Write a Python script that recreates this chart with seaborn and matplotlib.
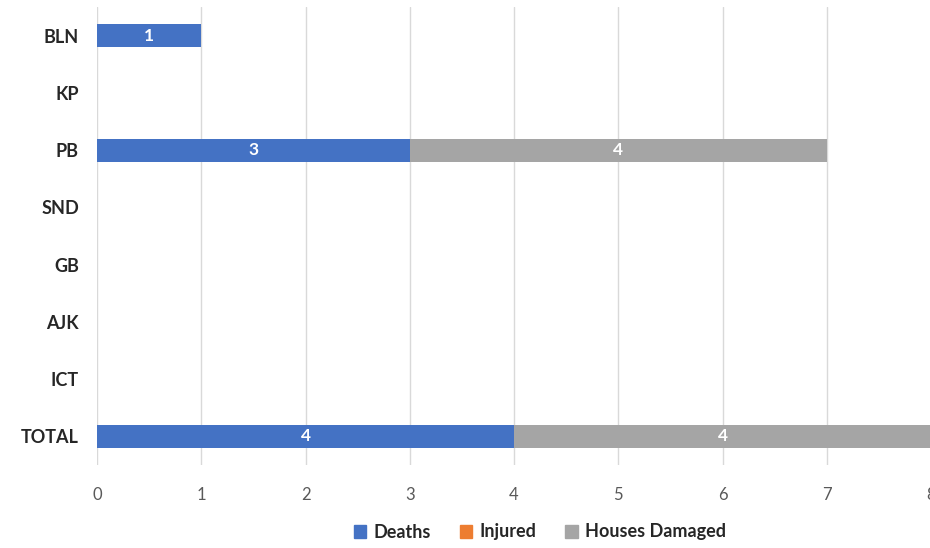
import matplotlib
matplotlib.use("Agg")
import matplotlib.pyplot as plt
import seaborn as sns
import pandas as pd
from matplotlib.patches import Patch

regions = ["BLN", "KP", "PB", "SND", "GB", "AJK", "ICT", "TOTAL"]
deaths = [1, 0, 3, 0, 0, 0, 0, 4]
injured = [0, 0, 0, 0, 0, 0, 0, 0]
houses = [0, 0, 4, 0, 0, 0, 0, 4]
x_ticks = [0, 1, 2, 3, 4, 5, 6, 7, 8]

c_deaths = "#4472C4"
c_injured = "#ED7D31"
c_houses = "#A5A5A5"

sns.set_theme(style="white")
plt.rcParams['font.family'] = ['Lato', 'DejaVu Sans']

df = pd.DataFrame({"region": regions, "deaths": deaths, "injured": injured, "houses": houses})
df["cum1"] = df["deaths"]
df["cum2"] = df["deaths"] + df["injured"]
df["cum3"] = df["cum2"] + df["houses"]

fig = plt.figure(figsize=(9.3, 5.48), dpi=100)
ax = fig.add_axes([97/930, 1 - 465/548, 834/930, (465 - 7)/548])

for col, color in [("cum3", c_houses), ("cum2", c_injured), ("cum1", c_deaths)]:
    sns.barplot(data=df, y="region", x=col, color=color, orient="h",
                width=0.4, ax=ax, saturation=1, linewidth=0, order=regions)

# data labels
for i, r in df.iterrows():
    segs = [(0, r["deaths"]), (r["cum1"], r["injured"]), (r["cum2"], r["houses"])]
    for start, val in segs:
        if val > 0:
            ax.text(start + val / 2, i, f"{int(val)}", ha="center", va="center",
                    color="white", fontsize=12.5, fontweight="bold")

ax.set_xlim(0, 8)
ax.set_ylim(7.5, -0.5)
ax.set_xticks(x_ticks)
ax.set_xticklabels([str(t) for t in x_ticks])
ax.xaxis.grid(True, color="#D9D9D9", linewidth=1)
ax.set_axisbelow(True)
ax.set_xlabel("")
ax.set_ylabel("")
for s in ax.spines.values():
    s.set_visible(False)
ax.tick_params(axis="x", colors="#595959", labelsize=12, length=0, pad=16)
ax.tick_params(axis="y", labelsize=13, length=0, pad=13)
for lbl in ax.get_yticklabels():
    lbl.set_fontweight("bold")
    lbl.set_color("#262626")

handles = [Patch(color=c_deaths, label="Deaths"),
           Patch(color=c_injured, label="Injured"),
           Patch(color=c_houses, label="Houses Damaged")]
fig.legend(handles=handles, loc="center", bbox_to_anchor=(540/930, 1 - 532/548),
           ncol=3, frameon=False, handlelength=0.7, handleheight=0.7,
           handletextpad=0.4, columnspacing=1.6,
           prop={"size": 13, "weight": "bold"}, labelcolor="#262626")

fig.savefig("out.png", dpi=100)
